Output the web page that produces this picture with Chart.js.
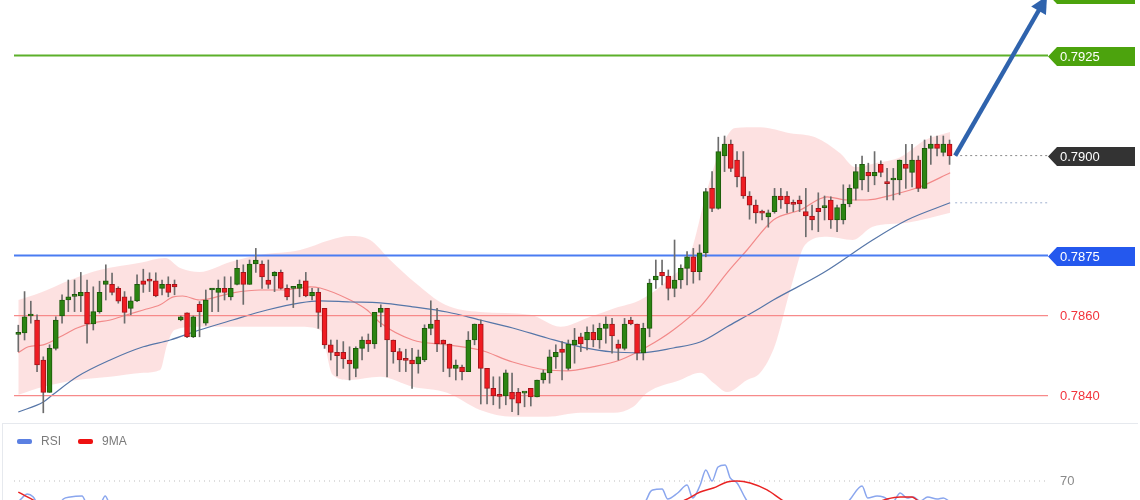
<!DOCTYPE html>
<html><head><meta charset="utf-8">
<script src="https://cdn.jsdelivr.net/npm/chart.js@4.4.0/dist/chart.umd.min.js"></script>
<style>
html,body{margin:0;padding:0;background:#fff;overflow:hidden}
#wrap{position:relative;width:1140px;height:500px}
canvas{display:block}
</style></head><body>
<div id="wrap">
<canvas id="main" width="1140" height="423"></canvas>
<canvas id="rsi" width="1140" height="77"></canvas>
</div>
<script>
// ---------- candle data (index 0..149) ----------
const open = [0.78553,0.78557,0.78599,0.78589,0.78489,0.78408,0.78518,0.78599,0.78639,0.78648,
0.78649,0.78658,0.78579,0.78610,0.78678,0.78678,0.78668,0.78647,0.78618,0.78637,
0.78687,0.78687,0.78687,0.78668,0.78678,0.78678,0.78589,0.78607,0.78547,0.78628,
0.78581,0.78664,0.78658,0.78668,0.78647,0.78678,0.78708,0.78678,0.78729,0.78729,
0.78689,0.78699,0.78708,0.78668,0.78668,0.78668,0.78687,0.78649,0.78658,0.78618,
0.78527,0.78508,0.78508,0.78489,0.78468,0.78518,0.78539,0.78529,0.78608,0.78618,
0.78539,0.78510,0.78489,0.78489,0.78479,0.78489,0.78568,0.78589,0.78539,0.78529,
0.78468,0.78471,0.78460,0.78539,0.78579,0.78468,0.78418,0.78399,0.78399,0.78408,
0.78408,0.78406,0.78418,0.78397,0.78439,0.78457,0.78497,0.78516,0.78468,0.78527,
0.78547,0.78539,0.78558,0.78539,0.78568,0.78579,0.78529,0.78518,0.78589,0.78579,
0.78507,0.78568,0.78689,0.78708,0.78699,0.78668,0.78689,0.78718,0.78747,0.78710,
0.78757,0.78918,0.78868,0.78999,0.79029,0.78989,0.78947,0.78899,0.78876,0.78857,
0.78847,0.78860,0.78899,0.78899,0.78879,0.78889,0.78860,0.78849,0.78868,0.78870,
0.78889,0.78839,0.78839,0.78879,0.78918,0.78939,0.78958,0.78949,0.78978,0.78931,
0.78939,0.78939,0.78978,0.78958,0.78989,0.78918,0.79018,0.79029,0.79008,0.79029];
const high = [0.78576,0.78660,0.78636,0.78602,0.78497,0.78527,0.78597,0.78652,0.78689,0.78689,
0.78708,0.78689,0.78672,0.78686,0.78727,0.78706,0.78672,0.78660,0.78647,0.78702,
0.78716,0.78707,0.78707,0.78689,0.78697,0.78689,0.78599,0.78607,0.78599,0.78635,
0.78664,0.78668,0.78689,0.78697,0.78697,0.78739,0.78727,0.78739,0.78768,0.78737,
0.78739,0.78710,0.78714,0.78677,0.78672,0.78689,0.78708,0.78668,0.78668,0.78618,
0.78539,0.78539,0.78535,0.78522,0.78522,0.78547,0.78554,0.78608,0.78627,0.78618,
0.78539,0.78518,0.78516,0.78518,0.78514,0.78577,0.78637,0.78618,0.78539,0.78529,
0.78489,0.78476,0.78560,0.78579,0.78589,0.78468,0.78447,0.78447,0.78464,0.78456,
0.78418,0.78408,0.78418,0.78439,0.78464,0.78514,0.78527,0.78535,0.78539,0.78568,
0.78556,0.78572,0.78577,0.78581,0.78597,0.78593,0.78539,0.78593,0.78596,0.78579,
0.78581,0.78691,0.78739,0.78739,0.78714,0.78789,0.78727,0.78760,0.78768,0.78777,
0.78918,0.78960,0.79046,0.79049,0.79039,0.79010,0.79010,0.78910,0.78889,0.78864,
0.78864,0.78918,0.78918,0.78910,0.78889,0.78899,0.78918,0.78876,0.78907,0.78899,
0.78897,0.78876,0.78927,0.78927,0.78978,0.78999,0.78981,0.79010,0.78987,0.78968,
0.78968,0.78989,0.79028,0.79028,0.78999,0.79039,0.79049,0.79049,0.79049,0.79039];
const low = [0.78510,0.78539,0.78581,0.78460,0.78357,0.78408,0.78514,0.78581,0.78610,0.78610,
0.78610,0.78531,0.78564,0.78606,0.78639,0.78652,0.78631,0.78581,0.78602,0.78635,
0.78658,0.78660,0.78647,0.78652,0.78647,0.78652,0.78587,0.78545,0.78545,0.78547,
0.78576,0.78610,0.78610,0.78639,0.78639,0.78677,0.78628,0.78678,0.78708,0.78668,
0.78668,0.78660,0.78666,0.78639,0.78620,0.78647,0.78647,0.78639,0.78568,0.78518,
0.78489,0.78449,0.78468,0.78439,0.78447,0.78489,0.78510,0.78518,0.78572,0.78447,
0.78481,0.78460,0.78460,0.78418,0.78456,0.78485,0.78552,0.78510,0.78460,0.78447,
0.78439,0.78439,0.78460,0.78527,0.78379,0.78379,0.78377,0.78368,0.78377,0.78360,
0.78352,0.78372,0.78374,0.78397,0.78431,0.78431,0.78468,0.78439,0.78464,0.78481,
0.78510,0.78514,0.78522,0.78518,0.78531,0.78506,0.78489,0.78514,0.78577,0.78489,
0.78489,0.78547,0.78668,0.78677,0.78639,0.78647,0.78668,0.78677,0.78681,0.78689,
0.78747,0.78860,0.78866,0.78960,0.78960,0.78922,0.78893,0.78841,0.78831,0.78839,
0.78821,0.78856,0.78868,0.78857,0.78860,0.78860,0.78797,0.78814,0.78810,0.78839,
0.78818,0.78810,0.78829,0.78872,0.78889,0.78914,0.78910,0.78927,0.78947,0.78889,
0.78889,0.78902,0.78918,0.78922,0.78910,0.78918,0.78978,0.78999,0.78999,0.78978];
const close = [0.78557,0.78597,0.78600,0.78477,0.78408,0.78518,0.78589,0.78639,0.78647,0.78649,
0.78658,0.78579,0.78610,0.78658,0.78687,0.78658,0.78636,0.78608,0.78637,0.78678,
0.78678,0.78686,0.78649,0.78678,0.78658,0.78672,0.78597,0.78547,0.78597,0.78610,
0.78639,0.78665,0.78668,0.78658,0.78668,0.78718,0.78678,0.78729,0.78739,0.78697,
0.78678,0.78708,0.78668,0.78647,0.78669,0.78678,0.78649,0.78658,0.78608,0.78527,
0.78508,0.78500,0.78492,0.78479,0.78518,0.78539,0.78529,0.78608,0.78618,0.78539,
0.78510,0.78489,0.78488,0.78479,0.78497,0.78568,0.78579,0.78529,0.78529,0.78468,
0.78476,0.78460,0.78539,0.78579,0.78468,0.78418,0.78399,0.78398,0.78457,0.78391,
0.78381,0.78407,0.78397,0.78439,0.78457,0.78497,0.78508,0.78508,0.78529,0.78539,
0.78529,0.78558,0.78539,0.78568,0.78579,0.78549,0.78518,0.78579,0.78579,0.78506,
0.78568,0.78681,0.78699,0.78699,0.78668,0.78689,0.78718,0.78747,0.78710,0.78757,
0.78910,0.78868,0.79010,0.79029,0.78968,0.78947,0.78899,0.78876,0.78857,0.78856,
0.78857,0.78899,0.78889,0.78879,0.78878,0.78879,0.78849,0.78839,0.78860,0.78871,
0.78839,0.78870,0.78879,0.78918,0.78960,0.78978,0.78949,0.78958,0.78958,0.78930,
0.78940,0.78989,0.78968,0.78989,0.78918,0.79018,0.79029,0.79018,0.79029,0.78999];

// ---------- Bollinger band & moving averages (read at sample candle positions) ----------
const upperIdx = [0,3.5,8.3,13,19.5,23.5,25.9,29,33.9,38.7,45.1,49.9,53.1,56.3,59.5,63.5,68.3,73.9,81.9,86.7,91.5,95.5,99.5,104.3,107.5,110.2,112.3,114.7,118.7,123.5,127.5,131.5,133.9,137.1,141.1,145.1,149.1];
const upperVal = [0.78639,0.78657,0.78689,0.78714,0.78732,0.78744,0.78719,0.78709,0.78734,0.78752,0.78764,0.78789,0.78799,0.78789,0.78739,0.78682,0.78627,0.78609,0.78602,0.78572,0.78597,0.78619,0.78639,0.78694,0.78754,0.78914,0.79014,0.79069,0.79071,0.79056,0.79046,0.79006,0.78971,0.78981,0.78996,0.79039,0.79059];
const lowerIdx = [0,4,9.4,14.7,20,22.7,23.8,25,29,37,45,48.3,50.3,53,57.9,63.1,68.6,73.9,79.1,84.6,89.9,95.2,98.4,100.6,105.9,109.1,111.2,113.4,116.6,118.7,121.1,123.5,125.9,129.4,133.5,136.7,142.2,149.1];
const lowerVal = [0.78402,0.78422,0.78439,0.78447,0.78457,0.78464,0.78527,0.78564,0.78572,0.78572,0.78572,0.78564,0.78452,0.78439,0.78447,0.78422,0.78407,0.78364,0.78347,0.78347,0.78357,0.78357,0.78372,0.78407,0.78439,0.78457,0.78432,0.78409,0.78439,0.78457,0.78527,0.78664,0.78777,0.78797,0.78789,0.78822,0.78832,0.78857];
const midIdx = [0,1.6,4,6.7,9.4,12,14.7,17.4,20,22.7,24.8,26.3,29,34.3,38.7,42.4,46.7,48.3,53.1,55.8,57.9,63.1,68.6,73.9,79.1,84.6,87.8,91.9,96.3,100.6,104.8,109.1,113.4,116.6,120.8,125.1,129.4,132.6,135.8,139.9,144.3,149.1];
const midVal = [0.78507,0.78522,0.78527,0.78547,0.78569,0.78582,0.78589,0.78602,0.78614,0.78627,0.78647,0.78649,0.78639,0.78657,0.78664,0.78664,0.78672,0.78669,0.78639,0.78614,0.78582,0.78539,0.78527,0.78514,0.78484,0.78464,0.78462,0.78472,0.78489,0.78522,0.78564,0.78622,0.78707,0.78764,0.78839,0.78864,0.78897,0.78889,0.78889,0.78902,0.78922,0.78957];
const maIdx = [0,4,5.5,9.4,14.7,20,24.3,29,34.3,39.8,45.1,48.3,53.1,57.9,63.1,68.6,73.9,79.1,84.6,89.9,95.2,99.5,104.8,109.1,113.4,118.7,120.8,128.8,136.7,142.2,149.1];
const maVal = [0.78359,0.78384,0.78402,0.78447,0.78489,0.78522,0.78539,0.78564,0.78589,0.78614,0.78632,0.78637,0.78634,0.78632,0.78622,0.78609,0.78589,0.78569,0.78544,0.78522,0.78509,0.78507,0.78519,0.78534,0.78572,0.78619,0.78639,0.78707,0.78789,0.78839,0.78882];

// ---------- levels ----------
const levelPrices = [0.7925, 0.7875, 0.7860, 0.7840];
const levelColors = ['#5cb02a', '#4a7cf2', '#f78a8a', '#f78a8a'];
const tagPrices = [0.79405, 0.7925, 0.7900, 0.7875];
const tagTexts = ['0.7940', '0.7925', '0.7900', '0.7875'];
const tagColors = ['#4ca30d', '#4ca30d', '#333333', '#2458ee'];
const textLabelPrices = [0.7860, 0.7840];
const textLabelTexts = ['0.7860', '0.7840'];
const lastPrice = 0.7900;
const maLast = 0.78882;
const arrowStart = [149.9, 0.7900];
const arrowTip = [164.6, 0.79399];

// ---------- RSI panel ----------
const rsiIdx = [0,0.6,1.4,2.4,3.2,5.9,7.2,8.3,10.2,11.1,13,13.9,14.7,20,30,40,50,60,70,80,90,97,100.3,101.1,101.5,103,103.9,105.5,107,107.9,109.1,110,111,111.95,113.1,113.9,115,116.3,117.4,120,125,130,132.3,133,135,135.9,137.4,138.4,139.9,141.1,142.2,143.2,144.3,145.5,147,148,149.1];
const rsiVal = [57,59.4,61.9,60,55,52,58.75,60,60.6,55,55,60.6,55,48,50,45,40,42,38,35,45,50,56.9,63.1,64.4,65,58.75,62.5,67.5,59.4,67.5,76.9,70,78.75,80,71.9,68.75,59.4,53,48,50,52,55,58.1,66.9,59.4,60.6,60,56.9,62.5,59.4,60,57.5,60,58.75,59.4,56.9];
const rsiMaIdx = [0,1.2,2.4,3.5,10,20,30,40,50,60,70,80,90,100,104.3,106.7,109.1,111.2,113.4,115,117.1,119.8,122.2,124.3,130,137.1,139,141.1,143,143.8,145.1,149.1];
const rsiMaVal = [63.1,60.6,58.1,55,52,50,48,46,45,42,40,38,42,48,54.4,58.1,63.1,65.6,69.4,70,68.75,64.4,58.1,53.75,52,56.25,58.75,60,60,58.1,55.6,56];
const rsiLevel = 70;

// ---------- layout constants ----------
const X_MIN = -2.928, X_MAX = 179.47;   // candle index range across the 1140px canvas
const LINE_FROM = -0.688, LINE_TO = 164.75;
const Y_MIN = 0.783315, Y_MAX = 0.79389;
const GREEN = '#2c8412', GREEN_EDGE = '#1c5a0a', RED = '#ef1c22', RED_EDGE = '#a3141a';
const FONT = "'Liberation Sans', Arial, sans-serif";
Chart.defaults.font.family = FONT;

const pts = (xs, ys) => xs.map((x, k) => ({x: x, y: ys[k]}));
const hline = (v, a, b) => [{x: a, y: v}, {x: b, y: v}];

const wickData = open.map((o, i) => ({x: i, y: [low[i], high[i]]}));
const bodyData = open.map((o, i) => ({x: i, y: [o, close[i]]}));
const bodyFill = open.map((o, i) => close[i] >= o ? GREEN : RED);
const bodyEdge = open.map((o, i) => close[i] >= o ? GREEN_EDGE : RED_EDGE);

const smooth = {tension: 0.4, cubicInterpolationMode: 'monotone', pointRadius: 0};

const datasets = [
  Object.assign({type: 'line', label: 'BB upper', data: pts(upperIdx, upperVal), borderColor: 'rgba(0,0,0,0)', borderWidth: 1, fill: '+1', backgroundColor: 'rgba(246,130,130,0.24)', order: 20}, smooth),
  Object.assign({type: 'line', label: 'BB lower', data: pts(lowerIdx, lowerVal), borderColor: 'rgba(0,0,0,0)', borderWidth: 1, fill: false, order: 19}, smooth),
  Object.assign({type: 'line', label: 'MA', data: pts(midIdx, midVal), borderColor: '#f28a8a', borderWidth: 1.2, fill: false, order: 8}, smooth),
  Object.assign({type: 'line', label: 'MA long', data: pts(maIdx, maVal), borderColor: '#5676a8', borderWidth: 1.2, fill: false, order: 7}, smooth)
];
levelPrices.forEach((p, k) => {
  datasets.push({type: 'line', label: 'level ' + p, data: hline(p, LINE_FROM, LINE_TO), borderColor: levelColors[k], borderWidth: k < 2 ? 2 : 1.2, pointRadius: 0, fill: false, order: 6});
});
datasets.push({type: 'line', label: 'last', data: hline(lastPrice, arrowStart[0], LINE_TO), borderColor: '#8a8a8a', borderWidth: 1, borderDash: [2, 3], pointRadius: 0, fill: false, order: 6});
datasets.push({type: 'line', label: 'ma last', data: hline(maLast, arrowStart[0], LINE_TO), borderColor: '#9fb0cf', borderWidth: 1, borderDash: [2, 3], pointRadius: 0, fill: false, order: 6});
datasets.push({type: 'bar', label: 'wick', data: wickData, backgroundColor: '#6c6c6c', grouped: false, barThickness: 1, maxBarThickness: 1, order: 2});
datasets.push({type: 'bar', label: 'body', data: bodyData, backgroundColor: bodyFill, borderColor: bodyEdge, borderWidth: 1, borderSkipped: false, grouped: false, barThickness: 5, maxBarThickness: 5, minBarLength: 2, order: 1});

const decor = {
  id: 'decor',
  afterDraw(chart) {
    const {ctx, scales: {x, y}} = chart;
    ctx.save();
    // arrow
    const x0 = x.getPixelForValue(arrowStart[0]), y0 = y.getPixelForValue(arrowStart[1]);
    const x1 = x.getPixelForValue(arrowTip[0]), y1 = y.getPixelForValue(arrowTip[1]);
    const dx = x1 - x0, dy = y1 - y0, len = Math.hypot(dx, dy), ux = dx / len, uy = dy / len;
    const headL = 17, headW = 8.5;
    const bx = x1 - ux * headL, by = y1 - uy * headL;
    ctx.strokeStyle = '#2f63ad'; ctx.fillStyle = '#2f63ad';
    ctx.lineWidth = 4.5; ctx.lineCap = 'butt';
    ctx.beginPath(); ctx.moveTo(x0, y0); ctx.lineTo(bx + ux * 2, by + uy * 2); ctx.stroke();
    ctx.beginPath(); ctx.moveTo(x1, y1);
    ctx.lineTo(bx - uy * headW, by + ux * headW);
    ctx.lineTo(bx + uy * headW, by - ux * headW);
    ctx.closePath(); ctx.fill();
    // tags
    const px = x.getPixelForValue(LINE_TO);
    ctx.font = '13px ' + FONT;
    ctx.textBaseline = 'middle'; ctx.textAlign = 'left';
    tagPrices.forEach((p, k) => {
      const cy = Math.round(y.getPixelForValue(p)) + 0.5;
      ctx.fillStyle = tagColors[k];
      ctx.beginPath();
      ctx.moveTo(px, cy);
      ctx.lineTo(px + 9, cy - 9.5);
      ctx.lineTo(px + 87, cy - 9.5);
      ctx.lineTo(px + 87, cy + 9.5);
      ctx.lineTo(px + 9, cy + 9.5);
      ctx.closePath(); ctx.fill();
      ctx.fillStyle = '#ffffff';
      ctx.fillText(tagTexts[k], px + 12, cy + 1);
    });
    ctx.fillStyle = '#f2343c';
    textLabelPrices.forEach((p, k) => {
      ctx.fillText(textLabelTexts[k], px + 12, y.getPixelForValue(p) + 1);
    });
    ctx.restore();
  }
};

new Chart(document.getElementById('main'), {
  type: 'bar',
  data: {datasets: datasets},
  options: {
    responsive: false, animation: false, events: [],
    layout: {padding: 0},
    plugins: {legend: {display: false}, tooltip: {enabled: false}},
    scales: {
      x: {type: 'linear', min: X_MIN, max: X_MAX, display: false, offset: false},
      y: {type: 'linear', min: Y_MIN, max: Y_MAX, display: false}
    }
  },
  plugins: [decor]
});

const rsiDecor = {
  id: 'rsiDecor',
  afterDraw(chart) {
    const {ctx, scales: {x, y}} = chart;
    ctx.save();
    // panel border
    ctx.strokeStyle = '#e6e9ee'; ctx.lineWidth = 1;
    ctx.beginPath(); ctx.moveTo(2, 0.5); ctx.lineTo(1138, 0.5); ctx.moveTo(2.5, 0); ctx.lineTo(2.5, 77); ctx.stroke();
    // legend
    ctx.font = '12px ' + FONT;
    ctx.textBaseline = 'middle'; ctx.textAlign = 'left';
    let lx = 17;
    [0, 1].forEach(k => {
      const ds = chart.data.datasets[k];
      ctx.fillStyle = ds.legendColor;
      ctx.beginPath();
      if (ctx.roundRect) ctx.roundRect(lx, 16, 15, 5, 2); else ctx.rect(lx, 16, 15, 5);
      ctx.fill();
      ctx.fillStyle = '#7a7a7a';
      ctx.fillText(ds.label, lx + 24, 19);
      lx += 24 + ctx.measureText(ds.label).width + 17;
    });
    // level label
    ctx.font = '13px ' + FONT;
    ctx.fillStyle = '#8a8a8a';
    ctx.fillText(String(rsiLevel), x.getPixelForValue(LINE_TO) + 12, y.getPixelForValue(rsiLevel));
    ctx.restore();
  }
};

new Chart(document.getElementById('rsi'), {
  type: 'line',
  data: {datasets: [
    Object.assign({label: 'RSI', data: pts(rsiIdx, rsiVal), borderColor: '#8aa6ee', legendColor: '#5b80e2', borderWidth: 1.5, fill: false, order: 2}, smooth),
    Object.assign({label: '9MA', data: pts(rsiMaIdx, rsiMaVal), borderColor: '#e92323', legendColor: '#ee1111', borderWidth: 1.5, fill: false, order: 1}, smooth),
    {label: 'level', data: hline(rsiLevel, LINE_FROM, LINE_TO), borderColor: '#bdbdbd', borderWidth: 1, borderDash: [1, 4], pointRadius: 0, fill: false, order: 3}
  ]},
  options: {
    responsive: false, animation: false, events: [],
    layout: {padding: 0},
    plugins: {legend: {display: false}, tooltip: {enabled: false}},
    scales: {
      x: {type: 'linear', min: X_MIN, max: X_MAX, display: false},
      y: {type: 'linear', min: 58.125, max: 106.25, display: false}
    }
  },
  plugins: [rsiDecor]
});
</script>
</body></html>
